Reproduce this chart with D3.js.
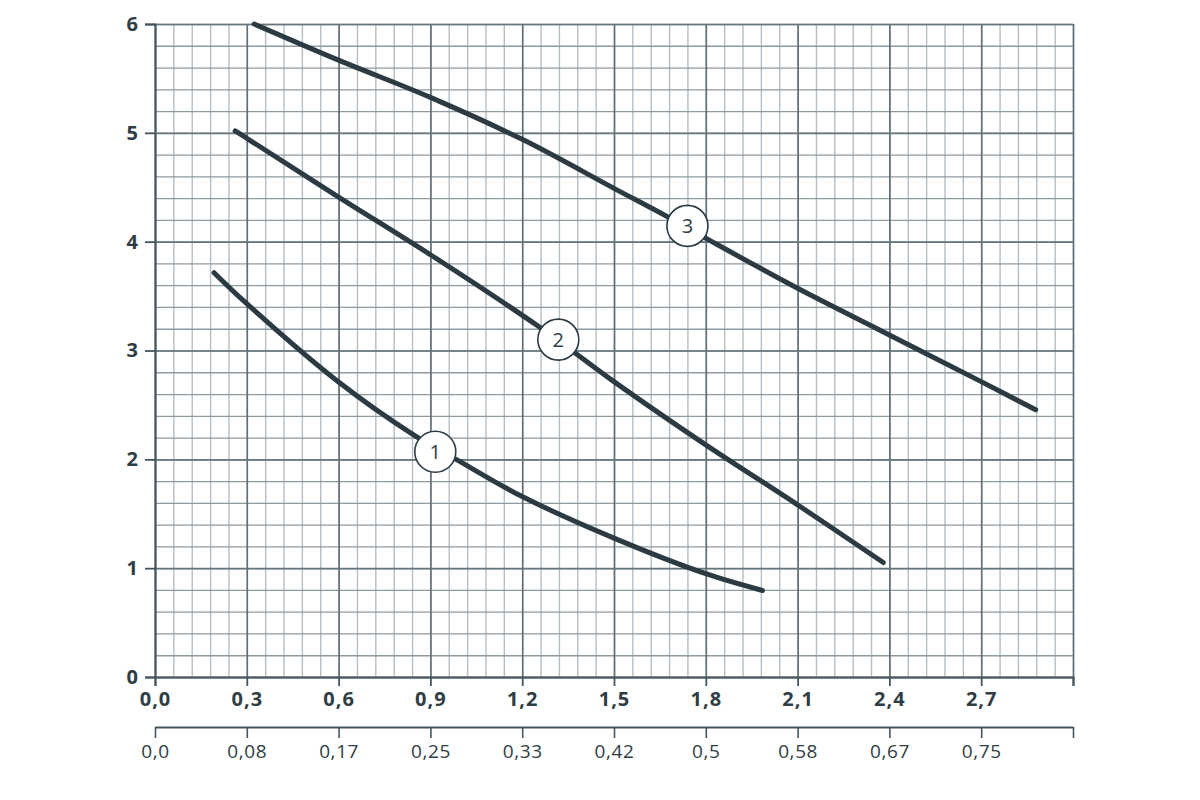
<!DOCTYPE html>
<html>
<head>
<meta charset="utf-8">
<script src="https://cdn.jsdelivr.net/npm/d3@7"></script>
<style>
  body { margin: 0; background: #fff; }
  #chart text { font-family: "Open Sans", "DejaVu Sans", sans-serif; fill: #2f3d45; }
</style>
</head>
<body>
<div id="chart"></div>
<script>
// flow values (m3/h) and head (m)
var curve1 = [[0.193, 3.715], [0.3, 3.43], [0.6, 2.71], [0.845, 2.225], [0.987, 1.995],
              [1.2, 1.658], [1.5, 1.276], [1.8, 0.949], [1.985, 0.795]];
var curve2 = [[0.262, 5.017], [0.3, 4.95], [0.6, 4.41], [0.9, 3.88], [1.254, 3.22],
              [1.374, 2.975], [1.5, 2.714], [1.8, 2.133], [2.1, 1.582], [2.38, 1.052]];
var curve3 = [[0.324, 6.0], [0.6, 5.668], [0.9, 5.326], [1.2, 4.94], [1.5, 4.49],
              [1.674, 4.23], [1.81, 4.016], [2.1, 3.572], [2.4, 3.143], [2.7, 2.714], [2.878, 2.455]];
var curveNames = ["1", "2", "3"];
var labelPos = [[0.916, 2.07], [1.318, 3.10], [1.74, 4.145]];

var xTicks = [0, 0.3, 0.6, 0.9, 1.2, 1.5, 1.8, 2.1, 2.4, 2.7, 3.0];
var xTickLabels = ["0,0", "0,3", "0,6", "0,9", "1,2", "1,5", "1,8", "2,1", "2,4", "2,7", ""];
var x2TickLabels = ["0,0", "0,08", "0,17", "0,25", "0,33", "0,42", "0,5", "0,58", "0,67", "0,75", ""];
var yTicks = [0, 1, 2, 3, 4, 5, 6];

var margin = {top: 24, right: 127, bottom: 123, left: 155},
    width = 1200 - margin.left - margin.right,
    height = 800 - margin.top - margin.bottom;

var x = d3.scaleLinear().domain([0, 3.0]).range([0, width]);
var y = d3.scaleLinear().domain([0, 6]).range([height, 0]);

var svg = d3.select("#chart").append("svg")
    .attr("width", 1200)
    .attr("height", 800)
  .append("g")
    .attr("transform", "translate(" + margin.left + "," + margin.top + ")");

// minor grid
svg.append("g")
    .attr("transform", "translate(0," + height + ")")
    .call(d3.axisBottom(x).tickValues(d3.range(0, 3.001, 0.06)).tickSize(-height).tickFormat(""))
    .call(function(g) { g.select(".domain").remove(); })
    .selectAll("line").attr("stroke", "#b4bec4").attr("stroke-width", 1.4);

svg.append("g")
    .call(d3.axisLeft(y).tickValues(d3.range(0, 6.001, 0.2)).tickSize(-width).tickFormat(""))
    .call(function(g) { g.select(".domain").remove(); })
    .selectAll("line").attr("stroke", "#8e9aa1").attr("stroke-width", 1.3);

// major grid
svg.append("g")
    .attr("transform", "translate(0," + height + ")")
    .call(d3.axisBottom(x).tickValues(xTicks).tickSize(-height).tickFormat(""))
    .call(function(g) { g.select(".domain").remove(); })
    .selectAll("line").attr("stroke", "#5f6d74").attr("stroke-width", 1.6);

svg.append("g")
    .call(d3.axisLeft(y).tickValues(yTicks).tickSize(-width).tickFormat(""))
    .call(function(g) { g.select(".domain").remove(); })
    .selectAll("line").attr("stroke", "#66747b").attr("stroke-width", 1.6);

// primary x axis
var xAxis = svg.append("g")
    .attr("transform", "translate(0," + height + ")")
    .call(d3.axisBottom(x).tickValues(xTicks).tickSize(9).tickPadding(6)
      .tickFormat(function(d, i) { return xTickLabels[i]; }));
xAxis.select(".domain").attr("stroke", "#46555d").attr("stroke-width", 2);
xAxis.selectAll("line").attr("stroke", "#46555d").attr("stroke-width", 1.8);
xAxis.selectAll("text").style("font-size", "20px").style("font-weight", "bold")
    .style("letter-spacing", "1px");

// secondary x axis
var x2Axis = svg.append("g")
    .attr("transform", "translate(0," + (height + 50) + ")")
    .call(d3.axisBottom(x).tickValues(xTicks).tickSize(11).tickPadding(7)
      .tickSizeOuter(0)
      .tickFormat(function(d, i) { return x2TickLabels[i]; }));
x2Axis.select(".domain").attr("stroke", "#46555d").attr("stroke-width", 1.8);
x2Axis.selectAll("line").attr("stroke", "#46555d").attr("stroke-width", 1.6);
x2Axis.selectAll("text").style("font-size", "19px").style("letter-spacing", "0.6px");

// y axis
var yAxis = svg.append("g")
    .call(d3.axisLeft(y).tickValues(yTicks).tickSize(10).tickPadding(7)
      .tickFormat(d3.format("d")));
yAxis.select(".domain").attr("stroke", "#46555d").attr("stroke-width", 2);
yAxis.selectAll("line").attr("stroke", "#46555d").attr("stroke-width", 1.8);
yAxis.selectAll("text").style("font-size", "20px").style("font-weight", "bold");

// curves
var line = d3.line()
    .x(function(d) { return x(d[0]); })
    .y(function(d) { return y(d[1]); })
    .curve(d3.curveCatmullRom.alpha(0.5));

svg.selectAll(".curve")
    .data([curve1, curve2, curve3])
  .enter().append("path")
    .attr("class", "curve")
    .attr("d", line)
    .attr("fill", "none")
    .attr("stroke", "#2c3b43")
    .attr("stroke-width", 5)
    .attr("stroke-linecap", "round")
    .attr("stroke-linejoin", "round");

// numbered markers
var marks = svg.selectAll(".mark")
    .data(labelPos)
  .enter().append("g")
    .attr("class", "mark")
    .attr("transform", function(d) { return "translate(" + x(d[0]) + "," + y(d[1]) + ")"; });

marks.append("circle")
    .attr("r", 20.5)
    .attr("fill", "#fff")
    .attr("stroke", "#2c3b43")
    .attr("stroke-width", 1.6);

marks.append("text")
    .attr("text-anchor", "middle")
    .attr("dy", "0.36em")
    .style("font-size", "20px")
    .text(function(d, i) { return curveNames[i]; });
</script>
</body>
</html>
